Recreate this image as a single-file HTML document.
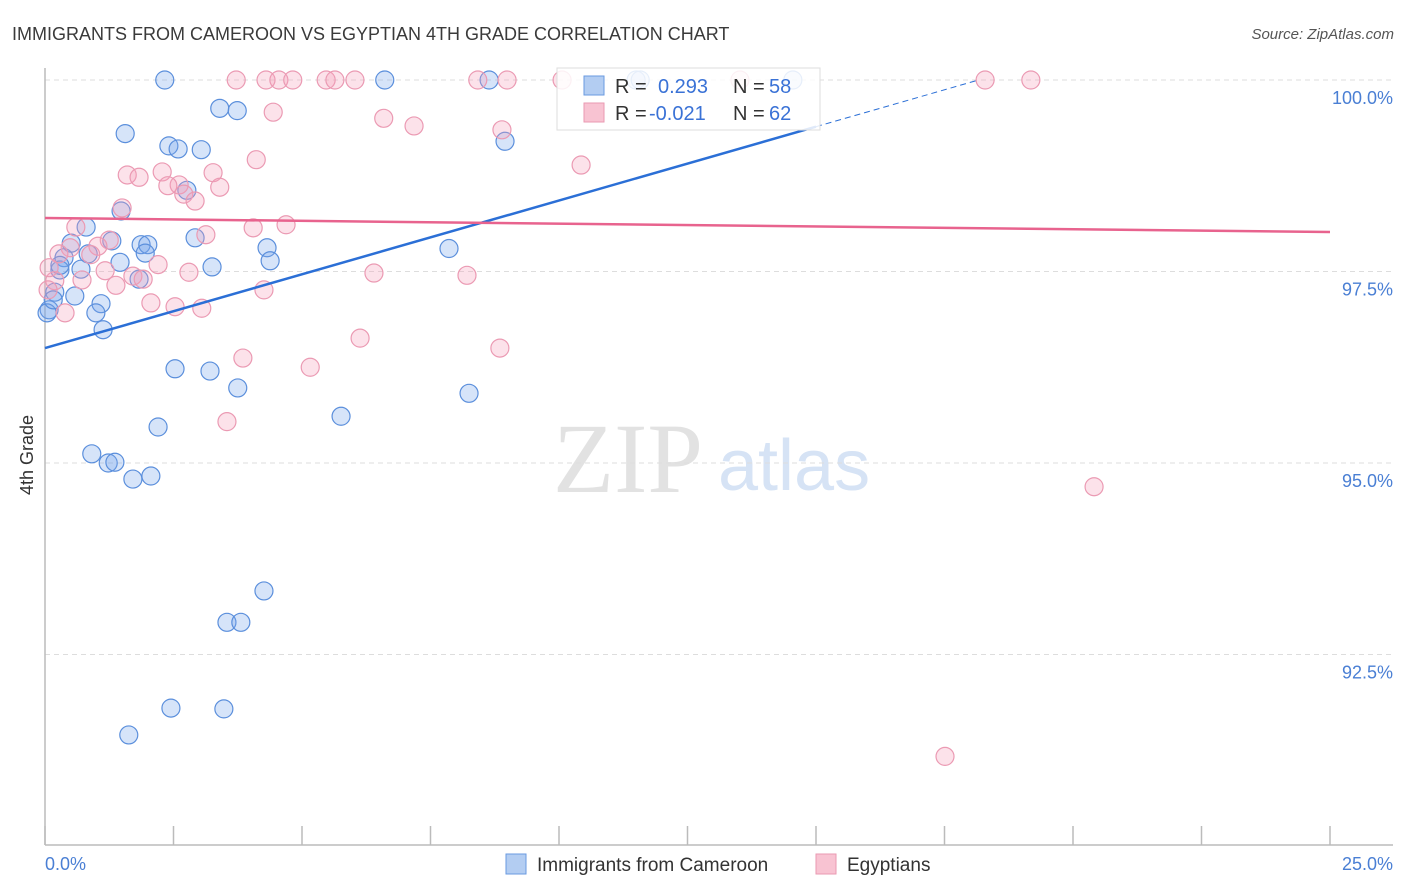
<!DOCTYPE html>
<html><head><meta charset="utf-8"><style>
body{margin:0;background:#fff;font-family:"Liberation Sans",sans-serif;}
svg{display:block}
</style></head><body>
<svg id="chart" width="1406" height="892" xmlns="http://www.w3.org/2000/svg">
<text x="12" y="40" font-size="18" fill="#3a3a3a">IMMIGRANTS FROM CAMEROON VS EGYPTIAN 4TH GRADE CORRELATION CHART</text>
<text x="1394" y="39" font-size="15" fill="#555" font-style="italic" text-anchor="end">Source: ZipAtlas.com</text>
<text x="33" y="455" font-size="18" fill="#333" text-anchor="middle" transform="rotate(-90 33 455)">4th Grade</text>
<g>
<text x="553" y="492" font-size="100" fill="#e2e2e2" font-family="Liberation Serif,serif">ZIP</text>
<text x="718" y="490" font-size="72" fill="#d6e3f5">atlas</text>
</g>
<g id="grid"></g>
<g id="axes"></g>
<g id="pts-blue"></g>
<g id="pts-pink"></g>
<g id="trends"></g>
<g>
<rect x="557" y="68" width="263" height="62" fill="#fff" fill-opacity="0.85" stroke="#ddd"/>
<rect x="584" y="76" width="20" height="19" fill="#b3cdf2" stroke="#6a9ae0"/>
<rect x="584" y="103" width="20" height="19" fill="#f8c3d2" stroke="#ea9ab2"/>
<text x="615" y="93" font-size="20" fill="#333">R = </text><text x="658" y="93" font-size="20" fill="#3a72d6">0.293</text>
<text x="733" y="93" font-size="20" fill="#333">N = </text><text x="769" y="93" font-size="20" fill="#3a72d6">58</text>
<text x="615" y="120" font-size="20" fill="#333">R = </text><text x="649" y="120" font-size="20" fill="#3a72d6">-0.021</text>
<text x="733" y="120" font-size="20" fill="#333">N = </text><text x="769" y="120" font-size="20" fill="#3a72d6">62</text>
</g>
<g>
<rect x="506" y="854" width="20" height="20" fill="#b3cdf2" stroke="#6a9ae0"/>
<text x="537" y="871" font-size="19" fill="#333">Immigrants from Cameroon</text>
<rect x="816" y="854" width="20" height="20" fill="#f8c3d2" stroke="#ea9ab2"/>
<text x="847" y="871" font-size="19" fill="#333">Egyptians</text>
</g>
</svg>
<script>
const yTicks=[100,97.5,95,92.5];
const yTickLabels=["100.0%","97.5%","95.0%","92.5%"];
const xTickVals=[0,2.5,5,7.5,10,12.5,15,17.5,20,22.5,25];
const xLabels=["0.0%","25.0%"];
const blueX=[2.33,6.61,8.64,11.5,14.55,3.40,3.74,1.56,2.41,2.59,3.04,8.95,2.76,1.48,0.80,2.92,0.51,1.87,2.00,1.30,4.32,7.86,0.37,0.84,1.95,1.46,3.25,4.38,0.29,0.70,1.83,0.19,0.58,1.09,0.99,0.08,1.13,2.53,3.21,3.75,8.25,5.76,2.20,0.91,1.23,1.36,1.71,2.06,4.26,3.54,3.81,2.45,3.48,1.63,0.04,0.16,0.29,11.58];
const blueY=[100,100,100,100,100,99.63,99.60,99.30,99.14,99.10,99.09,99.20,98.56,98.29,98.08,97.94,97.87,97.85,97.85,97.90,97.81,97.80,97.68,97.73,97.74,97.62,97.56,97.64,97.52,97.53,97.40,97.23,97.18,97.08,96.96,97.00,96.74,96.23,96.20,95.98,95.91,95.61,95.47,95.12,95.00,95.01,94.79,94.83,93.33,92.92,92.92,91.80,91.79,91.45,96.96,97.13,97.58,100];
const pinkX=[3.72,4.30,4.55,4.82,5.47,5.64,6.03,8.42,8.99,10.06,13.52,18.29,19.18,4.44,6.59,7.18,8.89,4.11,10.43,2.28,3.27,1.60,1.83,2.61,2.39,2.70,3.40,2.92,1.50,4.05,4.69,0.60,3.13,1.25,1.03,0.49,0.27,0.89,2.20,1.17,2.80,6.40,8.21,1.71,0.19,1.91,0.72,1.38,4.26,2.06,2.53,3.05,0.39,6.13,8.85,3.85,5.16,3.54,20.41,17.51,0.08,0.06];
const pinkY=[100,100,100,100,100,100,100,100,100,100,100,100,100,99.58,99.50,99.40,99.35,98.96,98.89,98.80,98.79,98.76,98.73,98.63,98.62,98.51,98.60,98.42,98.33,98.07,98.11,98.08,97.98,97.91,97.83,97.81,97.73,97.72,97.59,97.51,97.49,97.48,97.45,97.44,97.38,97.40,97.39,97.32,97.26,97.09,97.04,97.02,96.96,96.63,96.50,96.37,96.25,95.54,94.69,91.17,97.55,97.26];
const blueTrend=[96.5,0.1927]; // intercept, slope
const pinkTrend=[98.198,-0.0073];
const NS="http://www.w3.org/2000/svg";
function sx(v){return 45+v/25*1285;}
function sy(v){return 80+(100-v)/2.5*191.5;}
function mk(tag,attrs,parent){const e=document.createElementNS(NS,tag);for(const k in attrs)e.setAttribute(k,attrs[k]);parent.appendChild(e);return e;}
const grid=document.getElementById('grid'),axes=document.getElementById('axes');
yTicks.forEach((t,i)=>{
 const l=mk('line',{x1:45,x2:1393,y1:sy(t),y2:sy(t),stroke:'#ddd','stroke-dasharray':'5,4'},grid);
 
 
 const tx=mk('text',{x:1393,y:sy(t)+24,'font-size':18,fill:'#4a7fd4','text-anchor':'end'},axes);
 tx.textContent=yTickLabels[i];
 
 
});
const ya=mk('line',{x1:45,x2:45,y1:68,y2:845,stroke:'#bbb','stroke-width':1.5},axes);


const xa=mk('line',{x1:45,x2:1393,y1:845,y2:845,stroke:'#bbb','stroke-width':1.5},axes);


xTickVals.forEach(t=>{
 const l=mk('line',{x1:sx(t),x2:sx(t),y1:826,y2:845,stroke:'#bbb','stroke-width':1.5},axes);
 
 
});
const xl0=mk('text',{x:45,y:870,'font-size':18,fill:'#4a7fd4'},axes);xl0.textContent=xLabels[0];


const xl1=mk('text',{x:1393,y:870,'font-size':18,fill:'#4a7fd4','text-anchor':'end'},axes);xl1.textContent=xLabels[1];


function pts(xs,ys,g,fill,stroke,name){
 xs.forEach((x,i)=>{
  const c=mk('circle',{cx:sx(x),cy:sy(ys[i]),r:9,fill:fill,stroke:stroke,'stroke-width':1.2},g);
  
  
 });
}
pts(pinkX,pinkY,document.getElementById('pts-pink'),'rgba(244,160,185,0.3)','#eb9ab3','egyptian-point');
pts(blueX,blueY,document.getElementById('pts-blue'),'rgba(120,165,235,0.3)','#5b8fdc','cameroon-point');
const tr=document.getElementById('trends');
const xEnd=(100-blueTrend[0])/blueTrend[1];
const b1=mk('line',{x1:sx(0),y1:sy(blueTrend[0]),x2:sx(15),y2:sy(blueTrend[0]+15*blueTrend[1]),stroke:'#2b6fd6','stroke-width':2.5},tr);


const b2=mk('line',{x1:sx(15),y1:sy(blueTrend[0]+15*blueTrend[1]),x2:sx(xEnd),y2:sy(100),stroke:'#2b6fd6','stroke-width':1,'stroke-dasharray':'6,4'},tr);


const p1=mk('line',{x1:sx(0),y1:sy(pinkTrend[0]),x2:sx(25),y2:sy(pinkTrend[0]+25*pinkTrend[1]),stroke:'#e8638e','stroke-width':2.5},tr);


</script>
</body></html>
